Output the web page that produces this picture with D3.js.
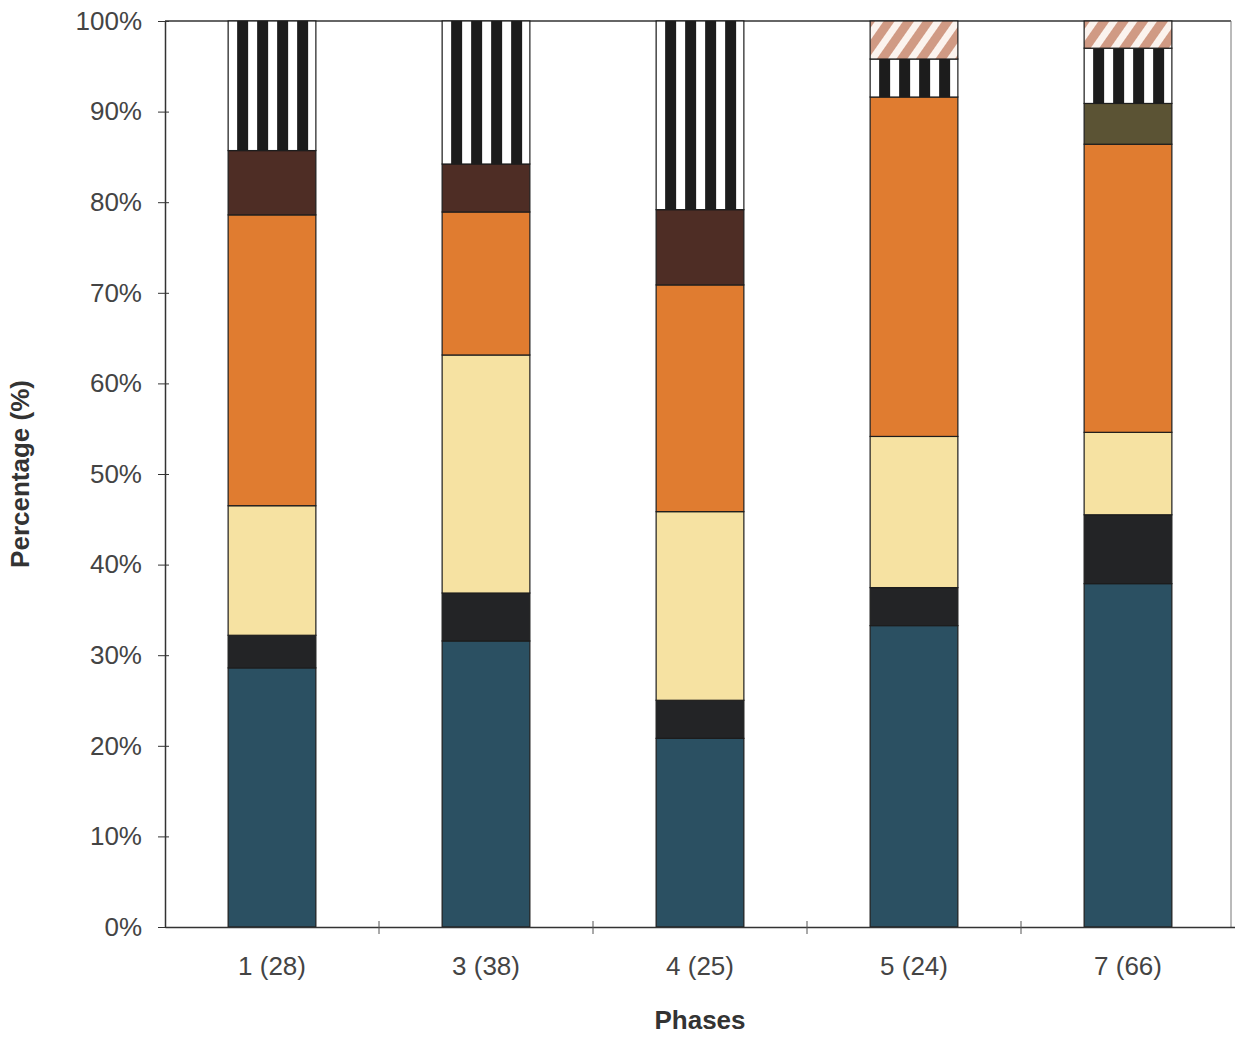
<!DOCTYPE html>
<html>
<head>
<meta charset="utf-8">
<script src="https://cdn.jsdelivr.net/npm/d3@7"></script>
<style>
  html, body { margin: 0; padding: 0; background: #fff; }
  svg { display: block; font-family: "Liberation Sans", Arial, sans-serif; }
</style>
</head>
<body>
<svg id="chart" width="1235" height="1037"></svg>
<script>
// ---- data (percent of observations per phase) ----
const categories = ["1 (28)", "3 (38)", "4 (25)", "5 (24)", "7 (66)"];
const seriesKeys = ["teal", "black", "yellow", "orange", "brown", "olive", "stripes", "hatched"];
const teal    = [28.6, 31.6, 20.8, 33.3, 37.9];
const black   = [3.6, 5.3, 4.2, 4.2, 7.6];
const yellow  = [14.3, 26.3, 20.8, 16.7, 9.1];
const orange  = [32.1, 15.8, 25.0, 37.5, 31.8];
const brown   = [7.1, 5.3, 8.3, 0, 0];
const olive   = [0, 0, 0, 0, 4.5];
const stripes = [14.3, 15.8, 20.8, 4.2, 6.1];
const hatched = [0, 0, 0, 4.2, 3.0];
const yTicks  = [0, 0.1, 0.2, 0.3, 0.4, 0.5, 0.6, 0.7, 0.8, 0.9, 1.0];
const xTitle = "Phases";
const yTitle = "Percentage (%)";

(function () {
const seriesValues = { teal, black, yellow, orange, brown, olive, stripes, hatched };
const rows = categories.map((c, i) => {
  const r = { cat: c };
  seriesKeys.forEach(k => r[k] = seriesValues[k][i]);
  return r;
});

// ---- layout ----
const mLeft = 165, mRight = 1235, mTop = 21, mBottom = 927, frameRight = 1231;
const svg = d3.select("#chart");

const x = d3.scaleBand().domain(categories).range([mLeft, mRight]).paddingInner(0.59).paddingOuter(0.295);
const y = d3.scaleLinear().domain([0, 1]).range([mBottom, mTop]);

const stack = d3.stack().keys(seriesKeys).offset(d3.stackOffsetExpand);
const layers = stack(rows);

// ---- patterns ----
const defs = svg.append("defs");
const bw = x.bandwidth();
const pStripe = defs.append("pattern")
  .attr("id", "pat-stripes")
  .attr("patternUnits", "objectBoundingBox")
  .attr("width", 20 / bw).attr("height", 1);
pStripe.append("rect").attr("width", 20).attr("height", 2000).attr("fill", "#ffffff");
pStripe.append("rect").attr("x", 9).attr("width", 11).attr("height", 2000).attr("fill", "#1c1c1c");

const pHatch = defs.append("pattern")
  .attr("id", "pat-hatch")
  .attr("patternUnits", "userSpaceOnUse")
  .attr("width", 16).attr("height", 16)
  .attr("patternTransform", "rotate(35)");
pHatch.append("rect").attr("width", 16).attr("height", 16).attr("fill", "#fbf3ee");
pHatch.append("rect").attr("x", 0).attr("width", 9).attr("height", 16).attr("fill", "#d09a84");

const fills = {
  teal: "#2b5062",
  black: "#232426",
  yellow: "#f6e2a2",
  orange: "#e07c30",
  brown: "#4e2d25",
  olive: "#5b5334",
  stripes: "url(#pat-stripes)",
  hatched: "url(#pat-hatch)"
};

// ---- frame ----
const axisColor = "#333";
svg.append("line").attr("x1", mLeft).attr("x2", frameRight).attr("y1", mTop).attr("y2", mTop)
  .attr("stroke", axisColor).attr("stroke-width", 1.5);
svg.append("line").attr("x1", frameRight).attr("x2", frameRight).attr("y1", mTop).attr("y2", mBottom)
  .attr("stroke", "#777").attr("stroke-width", 1);

// ---- bars ----
const g = svg.append("g");
layers.forEach(layer => {
  g.append("g").selectAll("rect")
    .data(layer.filter(d => d[1] - d[0] > 1e-6))
    .join("rect")
    .attr("x", d => x(d.data.cat))
    .attr("width", bw)
    .attr("y", d => y(d[1]))
    .attr("height", d => y(d[0]) - y(d[1]))
    .attr("fill", fills[layer.key])
    .attr("stroke", "#1d1d1d")
    .attr("stroke-width", 1.2);
});

// ---- axes ----
const yAxis = d3.axisLeft(y).tickValues(yTicks).tickFormat(d3.format(".0%")).tickSize(0).tickPadding(23);
const ya = svg.append("g").attr("transform", `translate(${mLeft},0)`).call(yAxis);
ya.select(".domain").attr("stroke", axisColor).attr("stroke-width", 1.5);
ya.selectAll("text").attr("font-size", 26).attr("fill", "#444");
ya.selectAll(".tick").append("line").attr("x1", -7).attr("x2", 4).attr("stroke", axisColor).attr("stroke-width", 1);

const xAxis = d3.axisBottom(x).tickSize(0).tickPadding(30);
const xa = svg.append("g").attr("transform", `translate(0,${mBottom})`).call(xAxis);
xa.select(".domain").attr("stroke", axisColor).attr("stroke-width", 1.5);
xa.selectAll("text").attr("font-size", 26).attr("fill", "#444");
const step = x.step();
xa.append("g").selectAll("line")
  .data(categories.slice(1))
  .join("line")
  .attr("x1", d => x(d) - (step - bw) / 2)
  .attr("x2", d => x(d) - (step - bw) / 2)
  .attr("y1", -6).attr("y2", 7)
  .attr("stroke", "#555").attr("stroke-width", 1);

// ---- titles ----
svg.append("text")
  .attr("x", (mLeft + mRight) / 2).attr("y", 1029)
  .attr("text-anchor", "middle")
  .attr("font-size", 26).attr("font-weight", "bold").attr("fill", "#333")
  .text(xTitle);
svg.append("text")
  .attr("transform", `translate(29,${(mTop + mBottom) / 2}) rotate(-90)`)
  .attr("text-anchor", "middle")
  .attr("font-size", 26).attr("font-weight", "bold").attr("fill", "#333")
  .text(yTitle);
})();
</script>
</body>
</html>
